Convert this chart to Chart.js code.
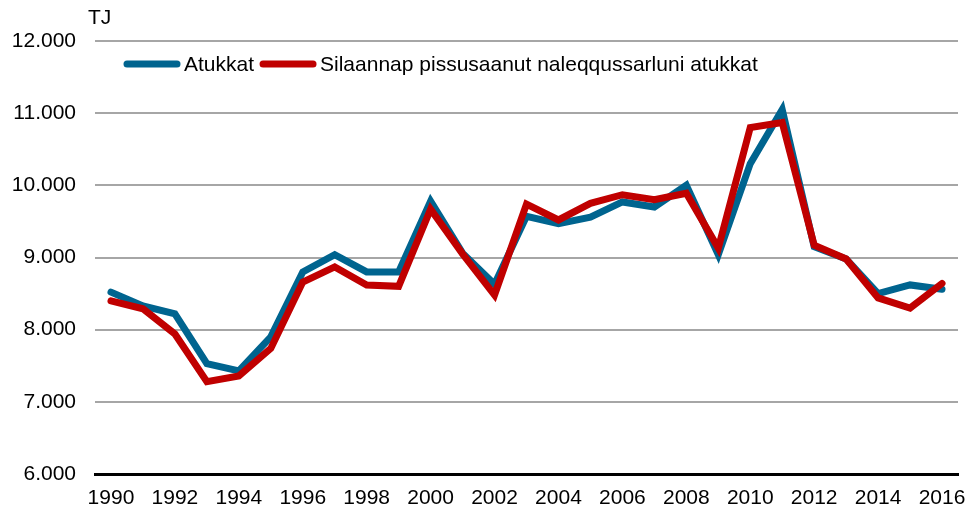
<!DOCTYPE html>
<html>
<head>
<meta charset="utf-8">
<script src="https://cdn.jsdelivr.net/npm/chart.js@4"></script>
<style>
  html, body { margin: 0; padding: 0; background: #fff; }
  #wrap { width: 980px; height: 508px; position: relative; }
</style>
</head>
<body>
<div id="wrap"><canvas id="energyChart"></canvas></div>
<script>
const years = ["1990", "1991", "1992", "1993", "1994", "1995", "1996", "1997", "1998", "1999",
   "2000", "2001", "2002", "2003", "2004", "2005", "2006", "2007", "2008", "2009",
   "2010", "2011", "2012", "2013", "2014", "2015", "2016"];
const atukkat = [8520, 8330, 8220, 7530, 7430, 7900, 8800, 9040, 8800, 8800,
   9780, 9060, 8630, 9570, 9470, 9560, 9770, 9700, 10000, 9040,
   10300, 11050, 9150, 8980, 8500, 8620, 8560];
const atukkatAdjusted = [8400, 8290, 7940, 7280, 7360, 7740, 8660, 8870, 8620, 8600,
   9670, 9050, 8480, 9740, 9520, 9750, 9870, 9800, 9890, 9130,
   10800, 10870, 9170, 8980, 8440, 8300, 8640];
const seriesNames = ["Atukkat", "Silaannap pissusaanut naleqqussarluni atukkat"];
const yTicks = [6000, 7000, 8000, 9000, 10000, 11000, 12000];

const FONT = "'Liberation Sans', Arial, sans-serif";
const BLUE = "#00648f";
const RED = "#c00000";

// legend + unit label drawn on top of the plot
const overlay = {
   id: "overlay",
   afterDraw(chart) {
      const ctx = chart.ctx;
      ctx.save();
      ctx.font = "21px " + FONT;
      ctx.fillStyle = "#000";
      ctx.textBaseline = "middle";
      ctx.fillText("TJ", 88, 18);

      let x = 127;
      const y = 64;
      chart.data.datasets.forEach((ds) => {
         ctx.strokeStyle = ds.borderColor;
         ctx.lineWidth = 7;
         ctx.lineCap = "round";
         ctx.beginPath();
         ctx.moveTo(x, y);
         ctx.lineTo(x + 50, y);
         ctx.stroke();
         x += 57;
         ctx.fillText(ds.label, x, y + 1);
         x += ctx.measureText(ds.label).width + 9;
      });
      ctx.restore();
   },
};

new Chart(document.getElementById("energyChart"), {
   type: "line",
   data: {
      labels: years,
      datasets: [
         {
            label: seriesNames[0],
            data: atukkat,
            borderColor: BLUE,
            backgroundColor: BLUE,
            borderWidth: 7,
            borderCapStyle: "round",
            pointRadius: 0,
            tension: 0,
            order: 1,
         },
         {
            label: seriesNames[1],
            data: atukkatAdjusted,
            borderColor: RED,
            backgroundColor: RED,
            borderWidth: 7,
            borderCapStyle: "round",
            pointRadius: 0,
            tension: 0,
            order: 0,
         },
      ],
   },
   options: {
      responsive: true,
      maintainAspectRatio: false,
      animation: false,
      layout: { padding: { top: 41, left: 12, right: 22, bottom: 0 } },
      plugins: {
         legend: { display: false },
         tooltip: { enabled: false },
      },
      scales: {
         x: {
            offset: true,
            grid: { display: false, drawTicks: false },
            border: { display: true, color: "#000", width: 3 },
            afterFit: (axis) => { axis.height = 34; },
            ticks: {
               autoSkip: false,
               maxRotation: 0,
               padding: 12,
               color: "#000",
               font: { family: FONT, size: 21 },
               callback: function (value, index) {
                  return index % 2 === 0 ? this.getLabelForValue(value) : "";
               },
            },
         },
         y: {
            min: 6000,
            max: 12000,
            afterBuildTicks: (axis) => {
               axis.ticks = yTicks.map((v) => ({ value: v }));
            },
            afterFit: (axis) => { axis.width = 83; },
            grid: { color: "#a6a6a6", lineWidth: 2, drawTicks: false },
            border: { display: false },
            ticks: {
               padding: 19,
               color: "#000",
               font: { family: FONT, size: 21 },
               callback: (v) => v.toLocaleString("de-DE"),
            },
         },
      },
   },
   plugins: [overlay],
});
</script>
</body>
</html>
